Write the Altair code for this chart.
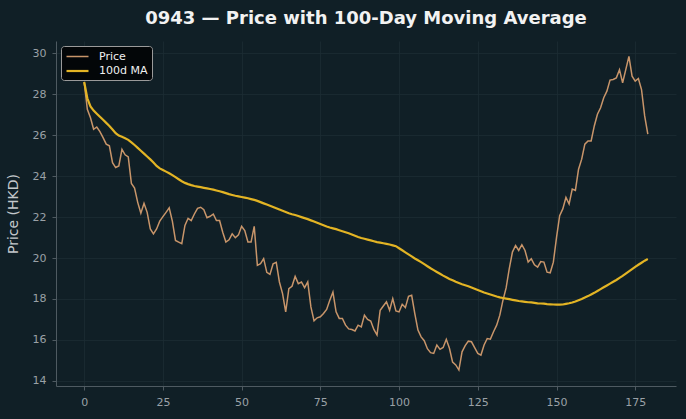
import altair as alt
import pandas as pd

# Daily closing price of 0943 and its 100-day moving average
days = list(range(180))

price = [
    28.6, 27.26, 26.85, 26.29, 26.4, 26.17, 25.88, 25.56, 25.48, 24.66,
    24.42, 24.5, 25.31, 25.04, 24.94, 23.64, 23.42, 22.72, 22.19, 22.67,
    22.23, 21.42, 21.18, 21.42, 21.8, 22.02, 22.23, 22.45, 21.8, 20.86,
    20.78, 20.7, 21.59, 21.94, 21.83, 22.15, 22.43, 22.48, 22.36, 21.97,
    22.04, 22.15, 21.83, 21.83, 21.26, 20.78, 20.89, 21.18, 20.99, 21.13,
    21.55, 21.34, 20.78, 20.78, 21.55, 19.64, 19.72, 19.97, 19.3, 19.2,
    19.72, 19.79, 18.83, 18.26, 17.37, 18.5, 18.62, 19.1, 18.75, 18.83,
    18.55, 18.83, 17.61, 16.93, 17.08, 17.13, 17.29, 17.49, 17.94, 18.34,
    17.37, 17.05, 17.05, 16.72, 16.54, 16.51, 16.44, 16.72, 16.64, 17.21,
    17.0, 16.92, 16.51, 16.24, 17.45, 17.66, 17.86, 17.45, 18.02, 17.42,
    17.37, 17.74, 17.58, 18.13, 18.18, 17.29, 16.48, 16.15, 15.96, 15.57,
    15.38, 15.34, 15.75, 15.54, 15.63, 16.03, 15.59, 14.92, 14.78, 14.53,
    15.42, 15.72, 15.94, 15.91, 15.62, 15.34, 15.26, 15.75, 16.07, 16.04,
    16.4, 16.72, 17.21, 17.94, 18.54, 19.48, 20.29, 20.61, 20.37, 20.65,
    20.37, 19.8, 19.96, 19.67, 19.56, 19.83, 19.8, 19.31, 19.28, 19.8,
    21.0, 22.07, 22.4, 22.96, 22.64, 23.37, 23.3, 24.34, 24.83, 25.56,
    25.72, 25.72, 26.45, 27.02, 27.34, 27.83, 28.15, 28.69, 28.72, 28.8,
    29.2, 28.56, 29.2, 29.85, 28.88, 28.64, 28.77, 28.23, 26.94, 26.05,
]

ma100 = [
    28.6, 27.8, 27.4, 27.2, 27.05, 26.9, 26.75, 26.6, 26.45, 26.28,
    26.1, 25.98, 25.92, 25.85, 25.77, 25.65, 25.52, 25.38, 25.24, 25.1,
    24.96, 24.82, 24.67, 24.5, 24.38, 24.3, 24.22, 24.14, 24.05, 23.95,
    23.85, 23.75, 23.67, 23.61, 23.56, 23.52, 23.49, 23.46, 23.43, 23.4,
    23.37, 23.34, 23.3, 23.26, 23.22, 23.17, 23.12, 23.08, 23.04, 23.01,
    22.98, 22.95, 22.92, 22.88, 22.84, 22.79, 22.73, 22.67, 22.61, 22.55,
    22.49, 22.43, 22.37, 22.31, 22.25, 22.19, 22.14, 22.1, 22.05, 22.0,
    21.95, 21.9, 21.84, 21.78, 21.72, 21.66, 21.6, 21.54, 21.49, 21.45,
    21.41, 21.36, 21.31, 21.26, 21.21, 21.15, 21.09, 21.03, 20.98, 20.94,
    20.9, 20.86, 20.82, 20.78, 20.75, 20.72, 20.69, 20.66, 20.62, 20.58,
    20.48, 20.38, 20.28, 20.18, 20.08, 19.98, 19.89, 19.8, 19.7, 19.6,
    19.5, 19.41, 19.32, 19.23, 19.14, 19.06, 18.98, 18.91, 18.84, 18.78,
    18.72, 18.67, 18.62, 18.56, 18.5, 18.44, 18.38, 18.32, 18.27, 18.22,
    18.17, 18.12, 18.08, 18.05, 18.02, 17.99, 17.96, 17.93, 17.9, 17.88,
    17.86, 17.84, 17.83, 17.81, 17.79, 17.78, 17.77, 17.75, 17.74, 17.73,
    17.72, 17.72, 17.73, 17.76, 17.79, 17.83, 17.88, 17.94, 18.0, 18.07,
    18.14, 18.22, 18.3, 18.39, 18.48, 18.57, 18.66, 18.75, 18.84, 18.93,
    19.03, 19.13, 19.24, 19.35, 19.46, 19.57, 19.67, 19.77, 19.87, 19.95,
]

series_names = ["Price", "100d MA"]
series_colors = ["#c8956a", "#e3b424"]
series_widths = [1.5, 2.2]
x_ticks = [0, 25, 50, 75, 100, 125, 150, 175]
y_ticks = [14, 16, 18, 20, 22, 24, 26, 28, 30]

BG = "#101f26"
FONT = "DejaVu Sans"

frame = pd.DataFrame({
    "day": days * 2,
    "value": price + ma100,
    "series": ["Price"] * len(days) + ["100d MA"] * len(days),
})

# flat line swatch drawn rightwards from the symbol's slot: a long stroke
# while the legend rows stay compact
legend = alt.Legend(
    title=None,
    orient="top-left",
    offset=5,
    fillColor="#030608",
    strokeColor="#9a9a9a",
    cornerRadius=3,
    padding=4,
    labelColor="#f0f0f0",
    labelFont=FONT,
    labelFontSize=11,
    labelOffset=20,
    symbolType="M-1,0H3",
    symbolSize=121,
    symbolFillColor="transparent",
    rowPadding=2,
)

color = alt.Color(
    "series:N",
    scale=alt.Scale(domain=series_names, range=series_colors),
    legend=legend,
)
stroke_w = alt.StrokeWidth(
    "series:N",
    scale=alt.Scale(domain=series_names, range=series_widths),
    legend=legend,
)

x = alt.X(
    "day:Q",
    scale=alt.Scale(domain=[-8.95, 187.95], nice=False, zero=False),
    axis=alt.Axis(title=None, values=x_ticks, format="d"),
)
y = alt.Y(
    "value:Q",
    scale=alt.Scale(domain=[13.75, 30.6], nice=False, zero=False),
    axis=alt.Axis(title="Price (HKD)", values=y_ticks, format="d"),
)

price_line = alt.Chart(frame).transform_filter(
    alt.datum.series == "Price"
).mark_line().encode(x=x, y=y, color=color, strokeWidth=stroke_w)

ma_line = alt.Chart(frame).transform_filter(
    alt.datum.series == "100d MA"
).mark_line().encode(x=x, y=y, color=color, strokeWidth=stroke_w)

chart = (
    alt.layer(price_line, ma_line)
    .properties(
        width=620,
        height=345,
        background=BG,
        padding={"left": 56, "top": 41, "right": 10, "bottom": 33},
        autosize=alt.AutoSizeParams(type="none"),
        title=alt.TitleParams(
            "0943 — Price with 100-Day Moving Average",
            font=FONT,
            fontSize=18,
            fontWeight="bold",
            color="#f2f2f2",
            offset=13,
            anchor="middle",
        ),
    )
    .configure_view(stroke=None, fill=BG)
    .configure_axis(
        domainColor="#4e5a61",
        tickColor="#4e5a61",
        tickSize=4,
        gridColor="#1c2c34",
        gridWidth=0.8,
        labelColor="#9aa1a6",
        labelFont=FONT,
        labelFontSize=11,
        labelPadding=6,
        titleColor="#c4c8cb",
        titleFont=FONT,
        titleFontSize=14,
        titleFontWeight="normal",
        titlePadding=12,
    )
)

chart.save("out.html", embed_options={"renderer": "svg", "actions": False})
